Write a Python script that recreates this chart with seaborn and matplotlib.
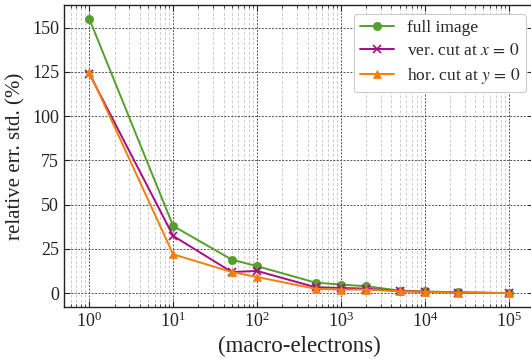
import matplotlib
matplotlib.use("Agg")
import matplotlib.pyplot as plt
import seaborn as sns
import pandas as pd
import numpy as np
from matplotlib.ticker import LogLocator, NullFormatter

sns.set_theme(style="ticks")
plt.rcParams['font.family'] = ['Liberation Serif', 'DejaVu Serif']
plt.rcParams['mathtext.fontset'] = 'stix'

macro = [1, 10, 50, 100, 500, 1000, 2000, 5000, 10000, 25000, 100000]
full_image = [155, 38, 19, 15.3, 6, 4.9, 4, 1.5, 1.1, 0.5, 0.1]
ver_cut = [124, 32.4, 12, 12.6, 3.4, 3, 2.6, 1.2, 0.8, 0.4, 0.1]
hor_cut = [125, 22, 12, 9.2, 2.5, 2.1, 2.1, 1.1, 0.8, 0.4, 0.1]

labels = ["full image", r"ver. cut at $x\,=\,0$", r"hor. cut at $y\,=\,0$"]
colors = ["#55a02c", "#aa0a85", "#f27f0c"]
markers = ["o", "x", "^"]

df = pd.DataFrame({
    "macro": macro * 3,
    "val": full_image + ver_cut + hor_cut,
    "series": [labels[0]] * len(macro) + [labels[1]] * len(macro) + [labels[2]] * len(macro),
})

fig = plt.figure(figsize=(5.31, 3.64), dpi=100)
ax = fig.add_axes([64/531, 1 - 307/364, (534 - 64)/531, (307 - 5)/364])

for lab, col, mk in zip(labels, colors, markers):
    sub = df[df["series"] == lab]
    sns.lineplot(data=sub, x="macro", y="val", ax=ax, color=col, marker=mk,
                 markersize=6, linewidth=1.4, label=lab,
                 markeredgecolor=col, markeredgewidth=1.2 if mk == "x" else 0.5)

ax.set_xscale("log")
ax.set_xlim(0.5, 2e5)
ax.set_ylim(-7.75, 162.75)
ax.set_yticks([0, 25, 50, 75, 100, 125, 150])
ax.xaxis.set_major_locator(LogLocator(base=10, numticks=10))
ax.xaxis.set_minor_locator(LogLocator(base=10, subs=np.arange(2, 10), numticks=20))
ax.xaxis.set_minor_formatter(NullFormatter())

ax.grid(True, which="major", axis="both", color="#555555", linestyle=(0, (2, 1.5)), linewidth=0.7)
ax.grid(True, which="minor", axis="x", color="#cccccc", linestyle=(0, (3, 2)), linewidth=0.7)
ax.set_axisbelow(True)

ax.tick_params(which="both", direction="in", top=True, right=True, labelsize=13, colors="#222222")
ax.tick_params(which="major", length=4, width=0.8)
ax.tick_params(which="minor", length=2.5, width=0.6)
for sp in ax.spines.values():
    sp.set_color("#222222")
    sp.set_linewidth(1.0)

ax.set_xlabel("(macro-electrons)", fontsize=16.5, color="#222222", labelpad=3)
ax.set_ylabel("relative err. std. (%)", fontsize=15, color="#222222", labelpad=5)

leg = ax.legend(loc="upper right", bbox_to_anchor=(0.983, 0.970), borderaxespad=0,
                fontsize=12.5, frameon=True,
                fancybox=True, framealpha=1.0, edgecolor="#cccccc", handlelength=2.0,
                handletextpad=0.7, borderpad=0.35, labelspacing=0.4)
leg.get_frame().set_linewidth(0.8)

fig.savefig("out.png", dpi=100)
